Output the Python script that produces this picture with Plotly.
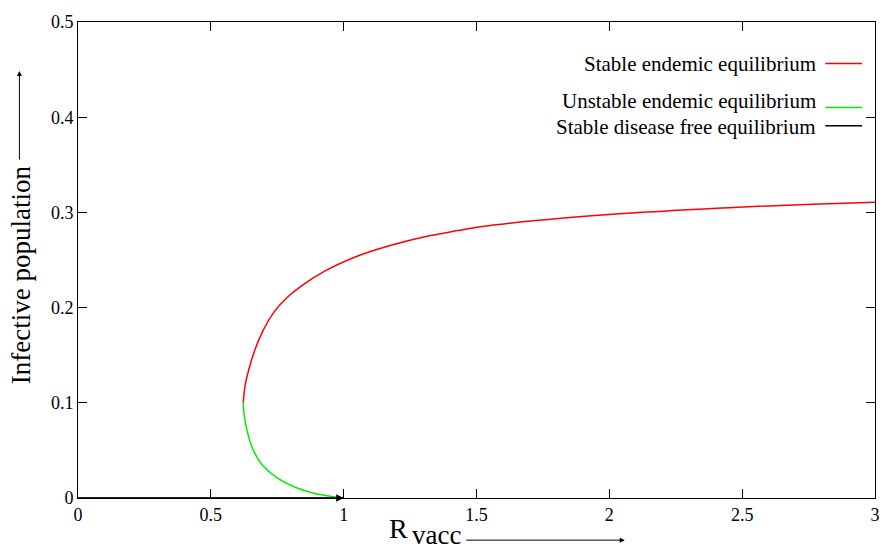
import plotly.graph_objects as go

# ---- data ----
stable_x = [0.622, 0.629, 0.643, 0.665, 0.695, 0.737, 0.785, 0.840, 0.930, 1.060,
            1.178, 1.305, 1.429, 1.515, 1.829, 2.140, 2.450, 2.764, 3.0]
stable_y = [0.100, 0.118, 0.135, 0.155, 0.175, 0.195, 0.210, 0.2225, 0.2385, 0.255,
            0.2655, 0.2745, 0.2809, 0.2850, 0.2940, 0.3004, 0.3050, 0.3086, 0.3107]

unstable_x = [0.622, 0.625, 0.637, 0.660, 0.693, 0.756, 0.815, 0.880, 0.955, 1.0]
unstable_y = [0.100, 0.088, 0.070, 0.050, 0.035, 0.020, 0.0115, 0.0055, 0.0015, 0.0]

dfe_x = [0.0, 1.0]
dfe_y = [0.0, 0.0]

x_ticks = [0, 0.5, 1, 1.5, 2, 2.5, 3]
x_tick_text = ["0", "0.5", "1", "1.5", "2", "2.5", "3"]
y_ticks = [0, 0.1, 0.2, 0.3, 0.4, 0.5]
y_tick_text = ["0", "0.1", "0.2", "0.3", "0.4", "0.5"]

legend_names = ["Stable endemic equilibrium", "Unstable endemic equilibrium",
                "Stable disease free equilibrium"]
legend_colors = ["#ff0000", "#00ee00", "#000000"]

FONT = "Liberation Serif"

fig = go.Figure()
fig.add_trace(go.Scatter(x=stable_x, y=stable_y, mode="lines",
                         line=dict(color=legend_colors[0], width=1.5, shape="spline",
                                   smoothing=1.0),
                         name=legend_names[0], showlegend=False, cliponaxis=False))
fig.add_trace(go.Scatter(x=unstable_x, y=unstable_y, mode="lines",
                         line=dict(color=legend_colors[1], width=1.5, shape="spline",
                                   smoothing=1.0),
                         name=legend_names[1], showlegend=False, cliponaxis=False))
fig.add_trace(go.Scatter(x=dfe_x, y=dfe_y, mode="lines",
                         line=dict(color=legend_colors[2], width=1.5),
                         name=legend_names[2], showlegend=False, cliponaxis=False))

annotations = []
# arrowhead on the disease-free line
annotations.append(dict(x=dfe_x[1], y=dfe_y[1], ax=dfe_x[0], ay=dfe_y[0],
                        xref="x", yref="y", axref="x", ayref="y",
                        showarrow=True, arrowhead=2, arrowsize=1.5, arrowwidth=1,
                        arrowcolor="black", text=""))

# axis titles
annotations.append(dict(text="Infective population", xref="paper", yref="paper",
                        x=-0.0723, y=0.469, textangle=-90, showarrow=False,
                        font=dict(family=FONT, size=27, color="black"),
                        xanchor="center", yanchor="middle"))
annotations.append(dict(text="", xref="paper", yref="paper", x=-0.0735, y=0.897,
                        ax=0, ay=90, showarrow=True, arrowhead=2, arrowsize=1,
                        arrowwidth=1, arrowcolor="black"))
annotations.append(dict(text="R", xref="paper", yref="paper",
                        x=(412 - 78) / 802, y=(498 - 529) / 486,
                        showarrow=False, font=dict(family=FONT, size=28, color="black"),
                        xanchor="right", yanchor="middle"))
annotations.append(dict(text="vacc", xref="paper", yref="paper",
                        x=(412 - 78) / 802, y=(498 - 536) / 486,
                        showarrow=False, font=dict(family=FONT, size=27, color="black"),
                        xanchor="left", yanchor="middle"))
annotations.append(dict(text="", xref="paper", yref="paper", x=0.686, y=-0.0885,
                        ax=-160, ay=0, showarrow=True, arrowhead=2, arrowsize=1,
                        arrowwidth=1, arrowcolor="black"))

# legend (text right-aligned, sample line on the right, like the original key)
legend_rows_y = [(498 - 55) / 486, (498 - 93) / 486, (498 - 119) / 486]
legend_line_y = [(498 - 54.3) / 486, (498 - 99.3) / 486, (498 - 118) / 486]
shapes = []
for name, color, ty, ly in zip(legend_names, legend_colors, legend_rows_y, legend_line_y):
    annotations.append(dict(text=name, xref="paper", yref="paper",
                            x=(823 - 78) / 802, y=ty, xanchor="right", yanchor="middle",
                            showarrow=False, font=dict(family=FONT, size=21, color="black")))
    shapes.append(dict(type="line", xref="paper", yref="paper",
                       x0=(830 - 78) / 802, x1=(867 - 78) / 802, y0=ly, y1=ly,
                       line=dict(color=color, width=1.5)))

axis_common = dict(showgrid=False, zeroline=False, showline=True, linecolor="black",
                   linewidth=1, mirror="ticks", ticks="inside", ticklen=9,
                   tickcolor="black", tickwidth=1,
                   tickfont=dict(family=FONT, size=18, color="black"))

fig.update_layout(
    width=892, height=550,
    margin=dict(l=78, r=12, t=12, b=52),
    paper_bgcolor="white", plot_bgcolor="white",
    font=dict(family=FONT, color="black"),
    xaxis=dict(range=[0, 3], tickvals=x_ticks, ticktext=x_tick_text, **axis_common),
    yaxis=dict(range=[0, 0.5], tickvals=y_ticks, ticktext=y_tick_text, **axis_common),
    annotations=annotations, shapes=shapes, showlegend=False,
)

fig.write_html("out.html")
